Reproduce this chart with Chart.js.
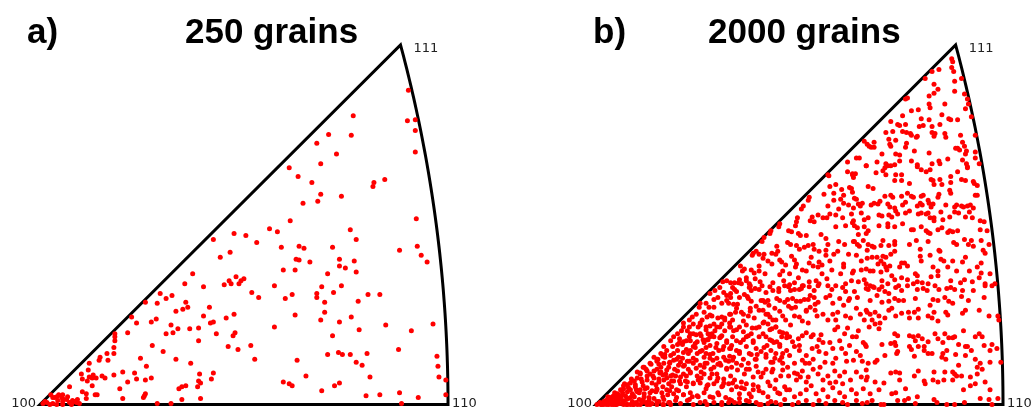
<!DOCTYPE html>
<html lang="en">
<head>
<meta charset="UTF-8">
<title>Inverse pole figures - 250 / 2000 grains</title>
<script src="https://cdn.jsdelivr.net/npm/chart.js"></script>
<style>
  html, body { margin: 0; padding: 0; background: #fff; }
  body { width: 1032px; height: 407px; position: relative; overflow: hidden; }
  .panel { position: absolute; top: 0; }
</style>
</head>
<body>
<div class="panel" style="left:0"><canvas id="ipfA" width="516" height="407"></canvas></div>
<div class="panel" style="left:556px"><canvas id="ipfB" width="476" height="407"></canvas></div>
<script>
// corners of the standard triangle, stereographic coordinates x1000
const poles = ['100', '110', '111'];
const poleX = [0, 414.2, 366.0];
const poleY = [0, 0, 366.0];

const letters = ['a)', 'b)'];
const titles = ['250 grains', '2000 grains'];

// [X, Y] of each grain in the stereographic projection (x1000)
const grains250 = [
[374,320],[318,294],[373,289],[381,290],[381,279],[293,275],[316,274],[281,266],[381,257],[301,255],[285,245],[253,241],[262,232],[350,229],[339,226],[338,222],[276,226],[285,214],[306,212],[282,207],[267,205],[382,189],[254,187],[233,179],[241,176],[315,178],[197,174],[209,172],[176,168],[321,168],[220,165],[245,160],[263,161],[268,159],[297,160],[365,157],[383,161],[193,155],[183,150],[387,152],[260,148],[263,147],[304,148],[319,146],[274,145],[393,145],[304,141],[310,139],[247,137],[259,137],[321,135],[292,133],[155,133],[199,130],[207,128],[192,126],[204,126],[202,123],[194,123],[187,122],[147,123],[166,120],[238,121],[306,121],[286,120],[215,114],[222,109],[256,112],[249,108],[298,114],[281,113],[281,109],[333,112],[345,112],[122,113],[134,111],[128,108],[107,104],[119,103],[148,104],[150,99],[145,97],[138,95],[172,99],[323,105],[289,104],[289,94],[259,91],[197,92],[189,88],[166,90],[316,89],[93,89],[113,84],[118,87],[98,83],[173,83],[176,84],[133,81],[285,86],[304,84],[351,81],[399,82],[238,79],[140,77],[152,77],[161,78],[324,76],[377,75],[89,73],[76,72],[76,69],[128,72],[135,73],[179,72],[198,73],[196,70],[297,70],[161,65],[76,65],[114,60],[214,60],[191,59],[201,56],[364,56],[75,58],[125,54],[68,52],[75,52],[292,51],[303,53],[307,51],[315,51],[332,52],[403,49],[61,48],[60,45],[69,45],[102,47],[138,46],[218,46],[261,45],[321,43],[327,40],[404,39],[50,42],[108,39],[153,42],[49,35],[162,31],[176,32],[174,26],[270,29],[335,28],[405,28],[42,31],[84,33],[96,32],[98,26],[75,30],[54,30],[57,27],[50,28],[53,27],[63,29],[66,27],[113,27],[43,26],[48,24],[89,23],[107,25],[161,24],[163,22],[160,18],[412,25],[247,23],[253,21],[256,19],[299,19],[304,22],[53,19],[30,18],[81,16],[148,19],[144,18],[141,16],[43,13],[47,11],[23,10],[286,14],[365,12],[345,10],[331,9],[412,10],[11,10],[13,7],[17,8],[19,10],[56,10],[58,10],[107,11],[106,9],[105,7],[384,7],[47,6],[163,6],[84,6],[144,5],[23,6],[27,5],[33,4],[37,2],[40,1],[119,1],[133,1],[367,1],
[15,7],[22,7],[23,3],[30,2],[35,3],[38,5],[3,1],[7,2],[10,0],[13,1],[17,0],[32,0],[23,0],[5,3],[18,4],[28,8]
];

const grains2000 = [
// near 111
[362,352],[363,349],[349,341],[362,343],[364,339],[342,339],[335,332],[372,332],[365,329],[344,326],[348,321],[365,319],[375,316],[378,311],[379,306],[344,317],[339,314],[317,312],[315,311],[328,300],[339,306],[340,302],[355,306],[321,299],[376,301],[312,294],[331,291],[352,295],[382,293],[300,288],[307,285],[309,284],[315,285],[339,290],[329,283],[333,284],[342,283],[350,285],[359,291],[361,290],[368,290],[302,278],[295,277],[312,278],[316,277],[320,276],[321,274],[327,273],[342,277],[345,276],[355,276],[356,272],[371,274],[386,274],[273,268],[276,265],[278,263],[280,262],[283,267],[298,270],[305,269],[316,266],[326,272],[344,273],[315,262],[373,267],[375,263],[299,265],[300,263],[283,262],[291,255],[305,255],[309,254],[324,258],[339,256],[366,261],[368,261],[370,259],[377,258],[376,255],[386,257],[265,251],[268,251],[256,247],[275,243],[286,247],[295,245],[297,243],[304,244],[309,248],[321,248],[327,244],[342,245],[349,248],[350,245],[358,250],[373,249],[377,245],[386,251],[390,245],[378,242],
// middle band, left
[237,233],[236,234],[256,237],[261,235],[262,231],[244,224],[238,222],[250,219],[258,221],[232,214],[242,215],[252,213],[261,216],[217,211],[216,208],[242,208],[249,209],[252,205],[257,203],[236,202],[211,202],[209,199],[247,199],[238,194],[235,190],[226,193],[220,191],[218,187],[222,186],[205,190],[204,186],[203,182],[231,190],[244,193],[251,190],[244,181],[254,182],[261,185],[187,184],[186,181],[196,177],[199,176],[206,174],[208,172],[214,172],[178,177],[177,174],[229,173],[234,169],[236,163],[247,166],[253,163],[262,166],[171,170],[169,166],[195,165],[198,163],[204,162],[216,162],[221,163],[222,158],[207,158],[185,156],[183,153],[160,154],[159,152],[163,156],[166,153],[171,153],[227,156],[234,157],[242,153],[246,156],[257,153],[175,146],[179,143],[187,147],[189,145],[202,147],[204,143],[217,144],[221,141],[230,142],[238,146],[252,143],[147,141],[149,136],[151,138],[161,134],[166,136],[172,133],[190,136],[197,133],[214,136],[226,140],[240,137],[249,133],[261,134],[129,125],[133,126],[137,124],[141,124],[146,127],[148,123],[153,126],[156,123],[157,121],[167,125],[180,124],[191,126],[197,122],[202,124],[211,121],[217,125],[227,123],[235,128],[244,121],[254,123],[260,126],
// middle band, right
[261,234],[264,235],[275,243],[285,236],[292,238],[294,241],[295,234],[300,243],[305,234],[311,234],[304,228],[311,228],[319,225],[277,222],[282,220],[327,242],[331,239],[336,237],[340,239],[341,229],[343,228],[344,224],[350,229],[352,224],[361,232],[361,226],[368,237],[372,229],[376,228],[360,218],[361,215],[378,241],[384,227],[385,225],[386,213],[388,213],[388,223],[260,220],[263,210],[265,209],[267,204],[269,202],[271,205],[262,200],[280,203],[283,205],[287,204],[289,207],[294,212],[300,213],[302,211],[311,212],[317,215],[321,212],[315,206],[323,211],[331,212],[333,213],[330,205],[332,203],[338,208],[339,205],[341,201],[343,204],[348,211],[349,214],[356,203],[365,201],[367,203],[372,202],[374,201],[378,202],[381,203],[384,200],[297,204],[299,201],[304,200],[305,197],[327,202],[312,203],[260,194],[262,187],[270,195],[273,188],[277,190],[288,193],[291,192],[298,193],[301,191],[307,194],[315,195],[319,197],[328,194],[331,195],[336,194],[338,195],[340,190],[344,190],[344,187],[351,196],[353,188],[360,191],[365,196],[369,195],[376,191],[380,196],[383,190],[391,187],[395,186],[263,182],[266,180],[273,181],[277,177],[288,182],[297,184],[297,181],[304,181],[312,184],[321,178],[323,178],[331,181],[336,177],[338,175],[340,174],[348,178],[352,180],[358,175],[360,177],[363,176],[368,177],[391,178],[398,177],[267,173],[275,174],[272,167],[266,163],[268,161],[263,166],[277,163],[276,157],[281,161],[283,160],[290,162],[292,167],[298,162],[304,163],[304,166],[319,163],[326,167],[330,158],[338,166],[349,157],[364,165],[367,163],[375,168],[379,163],[382,167],[392,167],[400,163],[394,157],[396,154],[384,161],[340,152],[350,156],[265,152],[270,146],[276,149],[281,150],[286,150],[290,146],[292,151],[295,150],[300,153],[304,156],[287,143],[293,143],[295,140],[299,141],[311,144],[314,144],[309,140],[317,141],[330,151],[331,146],[351,148],[354,146],[363,146],[373,145],[376,150],[392,144],[262,136],[270,137],[275,138],[279,136],[282,136],[290,135],[296,137],[301,131],[325,133],[327,131],[343,140],[348,136],[358,140],[367,136],[380,136],[388,140],[401,133],[392,134],[267,125],[273,127],[275,123],[279,121],[282,120],[291,126],[297,123],[304,127],[311,129],[317,127],[323,123],[327,125],[332,124],[338,123],[348,131],[341,130],[361,126],[371,124],[375,127],[383,125],[390,129],[396,123],[406,123],
// lower band, near 100
[121,116],[124,109],[120,107],[116,113],[126,119],[130,114],[133,106],[137,113],[135,103],[112,103],[115,99],[105,99],[102,92],[110,94],[113,89],[118,90],[124,88],[128,89],[131,86],[137,92],[106,103],[98,89],[95,86],[99,82],[106,83],[112,79],[116,80],[120,82],[126,79],[131,75],[136,79],[89,79],[87,75],[93,75],[99,72],[106,72],[114,72],[120,69],[127,69],[133,65],[83,72],[79,69],[76,65],[85,67],[89,64],[96,65],[103,64],[110,63],[116,60],[123,62],[130,59],[137,57],[69,59],[72,55],[66,52],[76,50],[83,55],[89,53],[96,55],[103,52],[110,48],[116,51],[123,47],[130,48],[135,44],[59,48],[62,44],[55,42],[69,42],[79,45],[86,43],[93,44],[99,42],[106,40],[113,42],[120,38],[127,40],[133,36],[49,38],[52,34],[45,31],[55,31],[62,36],[66,33],[72,35],[76,29],[83,34],[89,31],[96,33],[103,29],[110,31],[116,27],[123,31],[130,26],[137,29],[42,27],[39,24],[47,23],[52,25],[59,27],[64,23],[69,25],[74,21],[79,24],[86,21],[93,23],[99,21],[106,22],[113,19],[120,21],[128,18],[135,21],[32,20],[28,16],[35,15],[40,18],[45,15],[52,17],[57,14],[62,16],[67,12],[72,15],[79,11],[84,14],[89,10],[96,12],[103,9],[110,12],[116,8],[125,10],[132,7],[22,11],[25,8],[30,9],[33,6],[39,8],[44,5],[49,8],[54,4],[59,6],[64,3],[69,5],[74,2],[81,4],[86,1],[93,4],[99,0],[106,2],[113,0],[120,2],[128,0],[135,2],[15,6],[18,3],[11,2],[8,0],[5,0],[23,1],[27,4],[32,0],[37,3],[42,0],[47,2],[52,0],[57,1],[62,0],[69,0],[76,0],[1,0],[6,0],[13,0],[16,0],[20,0],[21,0],[28,0],[35,0],[38,0],[10,4],[13,4],[17,8],[20,6],[23,5],[27,12],[18,9],[32,13],[37,11],[42,13],[49,11],
[89,83],[95,79],[106,81],[112,76],[123,79],[136,83],[143,76],[153,81],[163,78],[170,83],[177,76],[183,79],[190,73],[95,69],[102,71],[109,66],[116,69],[126,68],[133,63],[139,69],[150,66],[160,63],[166,69],[177,66],[187,61],[194,68],[78,59],[85,63],[92,56],[99,59],[106,54],[112,58],[119,52],[129,56],[136,49],[146,54],[156,52],[163,46],[173,51],[182,47],[190,52],[62,46],[68,49],[75,42],[82,46],[89,39],[95,44],[102,37],[111,42],[117,36],[124,41],[133,37],[143,42],[153,36],[163,39],[170,32],[180,36],[188,29],[45,32],[51,36],[58,29],[65,32],[72,27],[78,30],[85,24],[92,29],[99,22],[107,27],[114,20],[123,24],[129,19],[139,22],[148,17],[160,20],[166,14],[177,19],[185,12],[194,15],[28,19],[35,22],[41,15],[48,19],[55,12],[62,15],[68,8],[75,14],[82,7],[89,10],[95,5],[104,8],[111,3],[119,7],[128,2],[136,5],[146,2],[156,3],[166,0],[178,3],[188,0],[14,7],[21,8],[28,3],[35,7],[41,2],[48,5],[55,0],[62,3],[68,0],[75,2],[4,2],[11,0],[18,0],[24,1],[31,0],[38,0],[45,0],[51,2],
[8,3],[12,8],[16,3],[19,12],[22,4],[25,15],[26,9],[29,21],[31,5],[33,17],[36,26],[38,9],[40,20],[42,33],[44,12],[46,26],[48,38],[50,16],[52,29],[54,7],[56,41],[57,22],[59,34],[61,13],[63,46],[64,26],[66,38],[68,18],[70,51],[71,31],[73,10],[75,43],[77,24],[80,36],[82,15],[84,48],[86,28],[88,61],[90,40],[92,18],[94,52],[96,32],[98,8],[101,62],[102,45],[104,25],[107,70],[108,55],[110,38],[112,16],[114,66],[116,47],[118,31],[121,75],[122,58],[124,12],[126,42],[128,70],[130,22],
[64,41],[70,48],[79,52],[83,61],[92,65],[96,72],[104,79],[108,86],[116,91],[120,99],[128,103],[133,111],[141,117],[145,124],[153,129],[158,137],[166,141],[170,149],[179,154],[184,161],
[74,38],[81,29],[88,47],[94,36],[101,58],[107,33],[113,66],[119,45],[124,27],[131,88],[138,60],[142,94],[148,40],[154,110],[159,78],[164,51],[169,121],[175,92],[181,63],[187,132],[192,104],[198,81],[203,140],[209,118],[214,95],[219,150],[224,126],[229,71],[157,98],[162,128],[168,106],[173,114],[186,118],[193,142],[199,151],[206,129],[212,160],[218,111],[227,145],[144,102],[136,92],[128,82],[118,72],[112,52],[99,47],[91,24],[84,40],[77,18],[68,30],[61,20],[140,48],[150,85],[161,88],[176,101],[183,86],[196,120],[203,99],[210,137],[216,83],[223,102],[230,133],[234,152],[240,117],[246,94],[252,140],[258,108],[125,55],[132,45],[147,63],[155,70],[171,58],[178,43],[189,48],[195,38],[207,60],[213,42],[220,57],[228,38],
// lower band, centre
[139,119],[143,115],[137,109],[146,109],[151,112],[156,119],[158,116],[162,118],[166,117],[177,120],[180,116],[186,115],[192,121],[198,116],[202,117],[207,117],[210,121],[217,120],[222,116],[226,121],[236,121],[251,119],[254,115],[263,115],[266,109],[275,118],[155,108],[158,105],[170,106],[172,104],[175,106],[184,108],[187,106],[195,107],[200,108],[204,105],[208,105],[212,107],[216,107],[222,109],[226,104],[234,109],[238,111],[241,103],[248,108],[257,106],[140,102],[143,98],[148,94],[150,92],[155,90],[157,95],[163,100],[166,96],[170,96],[173,92],[177,89],[180,86],[182,98],[187,95],[190,90],[193,86],[196,100],[199,98],[202,90],[207,89],[210,85],[214,96],[218,99],[223,96],[225,90],[231,92],[236,86],[241,92],[244,86],[252,101],[254,90],[259,88],[265,98],[269,92],[275,96],[273,86],[139,86],[137,79],[171,84],[175,82],[140,75],[146,79],[150,74],[153,69],[158,72],[160,65],[166,79],[170,72],[173,69],[179,77],[183,79],[187,74],[189,69],[194,72],[197,69],[200,64],[206,67],[210,70],[214,73],[219,69],[221,71],[227,66],[231,63],[238,63],[243,76],[246,79],[248,65],[253,72],[256,78],[261,69],[265,69],[267,75],[272,63],[143,65],[179,65],[184,64],[136,57],[143,55],[146,52],[153,59],[158,51],[163,57],[168,54],[174,60],[178,55],[183,52],[187,59],[194,55],[197,50],[202,59],[207,55],[214,50],[221,46],[225,59],[227,54],[234,52],[241,57],[244,47],[250,57],[254,52],[258,60],[265,54],[269,50],[275,59],[139,45],[150,46],[155,42],[162,46],[173,48],[180,43],[187,45],[190,42],[202,42],[210,45],[217,42],[233,43],[241,42],[255,44],[262,45],[271,44],[138,38],[144,35],[151,31],[156,36],[160,28],[165,33],[168,28],[173,36],[179,33],[183,25],[190,35],[196,29],[202,32],[205,31],[208,28],[210,34],[216,28],[221,36],[226,31],[231,25],[236,29],[243,34],[248,29],[253,33],[259,25],[265,33],[270,28],[275,35],[141,25],[148,23],[153,21],[175,23],[204,25],[214,23],[238,22],[244,23],[251,21],[138,15],[143,18],[146,11],[151,16],[156,11],[160,15],[165,18],[170,12],[175,8],[182,16],[187,11],[192,18],[197,15],[202,8],[208,11],[214,15],[219,19],[224,11],[231,15],[236,8],[241,17],[248,12],[253,8],[260,15],[265,11],[272,16],[138,4],[141,2],[146,6],[153,4],[158,8],[163,2],[168,0],[175,1],[183,2],[192,5],[200,0],[206,2],[214,4],[221,0],[227,4],[234,1],[243,4],[251,2],[256,0],[265,4],[271,1],
// lower band, near 110
[277,117],[283,119],[288,117],[291,120],[294,115],[286,111],[279,106],[298,113],[305,119],[308,121],[311,116],[317,121],[327,117],[333,118],[337,116],[345,121],[349,117],[357,118],[361,119],[365,117],[373,116],[384,116],[396,121],[403,121],[395,109],[379,106],[304,108],[308,106],[298,105],[291,104],[313,106],[325,108],[328,97],[340,101],[343,107],[348,106],[355,109],[359,105],[363,103],[372,110],[276,94],[279,92],[284,94],[288,90],[294,88],[298,96],[301,98],[305,90],[311,93],[281,86],[284,82],[289,83],[288,77],[304,72],[307,70],[318,94],[324,94],[319,88],[328,88],[338,90],[342,88],[344,94],[348,85],[356,94],[358,91],[373,93],[376,96],[390,96],[400,90],[409,90],[410,86],[274,61],[278,79],[291,61],[300,62],[304,63],[305,60],[307,54],[319,70],[323,69],[325,65],[328,70],[332,67],[334,59],[328,59],[319,59],[338,64],[345,72],[348,67],[353,63],[355,72],[359,68],[363,68],[365,69],[357,55],[369,61],[374,75],[376,59],[378,59],[386,69],[390,72],[393,69],[395,60],[403,61],[401,55],[408,57],[294,50],[277,42],[284,43],[286,45],[306,52],[321,56],[324,49],[334,55],[338,52],[342,52],[353,52],[352,48],[356,46],[366,51],[369,40],[376,50],[382,55],[386,46],[388,38],[391,42],[393,36],[401,43],[412,43],[328,34],[344,33],[355,33],[363,33],[365,31],[276,28],[275,25],[284,23],[288,15],[293,22],[300,32],[305,33],[309,32],[309,25],[324,29],[334,24],[335,21],[343,25],[348,23],[354,25],[363,25],[367,29],[372,29],[381,28],[388,31],[396,23],[401,15],[279,11],[301,11],[305,12],[315,16],[327,8],[374,15],[381,19],[386,21],[276,2],[281,4],[290,0],[293,0],[307,4],[314,4],[318,6],[325,1],[344,5],[347,2],[357,0],[365,0],[375,2],[391,6],[400,5],[403,0],[409,6]
];

// black outline of the standard triangle + pole labels + panel titles
const ipfPlugin = {
  id: 'ipf',
  beforeDatasetsDraw(chart) {
    const { ctx, scales: { x, y } } = chart;
    const R = Math.SQRT2 * 1000; // 110-111 great circle: centre (-1, 0), radius sqrt(2)
    const a111 = Math.atan2(poleY[2], poleX[2] + 1000);
    ctx.save();
    ctx.beginPath();
    ctx.moveTo(x.getPixelForValue(poleX[0]), y.getPixelForValue(poleY[0]));
    ctx.lineTo(x.getPixelForValue(poleX[2]), y.getPixelForValue(poleY[2]));
    for (let i = 1; i <= 60; i++) {
      const a = a111 * (1 - i / 60);
      ctx.lineTo(x.getPixelForValue(R * Math.cos(a) - 1000), y.getPixelForValue(R * Math.sin(a)));
    }
    ctx.closePath();
    ctx.lineWidth = 3;
    ctx.lineJoin = 'miter';
    ctx.strokeStyle = '#000';
    ctx.stroke();
    ctx.restore();
  },
  afterDraw(chart, args, opts) {
    const { ctx, scales: { x, y } } = chart;
    ctx.save();
    ctx.fillStyle = '#222';
    ctx.font = '13px "DejaVu Sans", sans-serif';
    ctx.textBaseline = 'alphabetic';
    ctx.textAlign = 'right';
    ctx.fillText(poles[0], x.getPixelForValue(poleX[0]) - 4, y.getPixelForValue(poleY[0]) + 2);
    ctx.textAlign = 'left';
    ctx.fillText(poles[1], x.getPixelForValue(poleX[1]) + 4, y.getPixelForValue(poleY[1]) + 2);
    ctx.fillText(poles[2], x.getPixelForValue(poleX[2]) + 13, y.getPixelForValue(poleY[2]) + 7);

    ctx.fillStyle = '#000';
    ctx.font = 'bold 35px "Liberation Sans", Arial, sans-serif';
    ctx.fillText(opts.letter, opts.letterX, 43);
    ctx.fillText(opts.title, opts.titleX, 43);
    ctx.restore();
  }
};

function drawPoleFigure(canvasId, points, letter, title, padding, letterX, titleX) {
  return new Chart(document.getElementById(canvasId), {
    type: 'scatter',
    data: {
      datasets: [{
        data: points.map(([x, y]) => ({ x, y })),
        backgroundColor: '#ff0000',
        borderWidth: 0,
        pointRadius: 2.5,
        pointHoverRadius: 2.5,
        clip: false
      }]
    },
    options: {
      responsive: false,
      animation: false,
      events: [],
      layout: { padding },
      scales: {
        x: { type: 'linear', display: false, min: poleX[0], max: poleX[1] },
        y: { type: 'linear', display: false, min: poleY[0], max: poleY[2] }
      },
      plugins: {
        legend: { display: false },
        tooltip: { enabled: false },
        ipf: { letter, title, letterX, titleX }
      }
    },
    plugins: [ipfPlugin]
  });
}

drawPoleFigure('ipfA', grains250, letters[0], titles[0], { left: 40, right: 68, top: 45, bottom: 2 }, 27, 185);
drawPoleFigure('ipfB', grains2000, letters[1], titles[1], { left: 40, right: 29, top: 45, bottom: 2 }, 37, 152);
</script>
</body>
</html>
